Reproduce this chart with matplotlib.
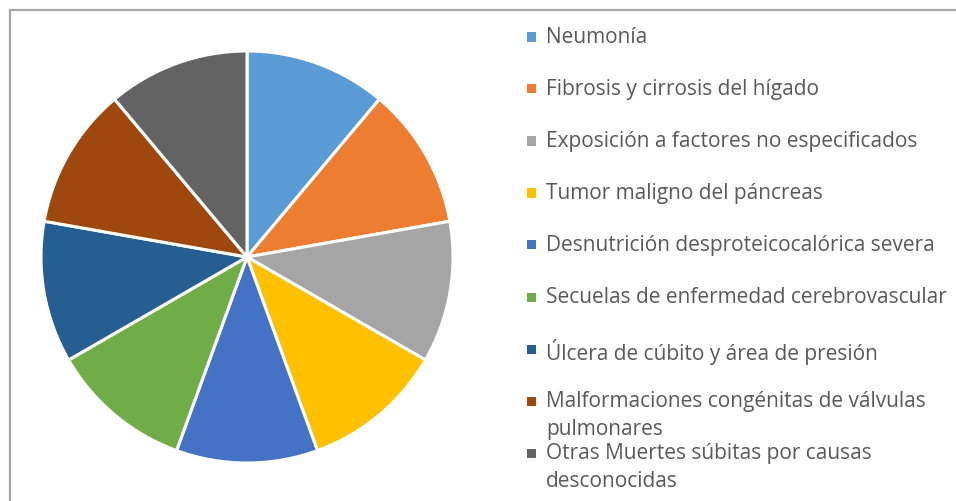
import matplotlib.pyplot as plt
from matplotlib.patches import Rectangle

labels = [
    "Neumonía",
    "Fibrosis y cirrosis del hígado",
    "Exposición a factores no especificados",
    "Tumor maligno del páncreas",
    "Desnutrición desproteicocalórica severa",
    "Secuelas de enfermedad cerebrovascular",
    "Úlcera de cúbito y área de presión",
    "Malformaciones congénitas de válvulas\npulmonares",
    "Otras Muertes súbitas por causas\ndesconocidas",
]
values = [1, 1, 1, 1, 1, 1, 1, 1, 1]
colors = ["#5B9BD5", "#ED7D31", "#A5A5A5", "#FFC000", "#4472C4",
          "#70AD47", "#255E91", "#9E480E", "#636363"]

W, H = 956, 501
fig = plt.figure(figsize=(W / 100, H / 100), dpi=100)

# outer chart frame (runs off the right/bottom edge like the screenshot)
fig.patches.append(Rectangle((10 / W, -0.1), 1.2, 1 - 10 / H + 0.1,
                             transform=fig.transFigure, fill=False,
                             edgecolor="#a6a6a6", linewidth=1.6))

# pie: centre (247, 257) px, radius 206 px
cx, cy, r = 247, 257, 206
ax = fig.add_axes([(cx - r) / W, 1 - (cy + r) / H, 2 * r / W, 2 * r / H])
ax.pie(values, colors=colors, startangle=90, counterclock=False,
       wedgeprops=dict(edgecolor="white", linewidth=2.2), radius=1)
ax.set_xlim(-1, 1)
ax.set_ylim(-1, 1)
ax.set_aspect("auto")
ax.axis("off")

# legend drawn by hand to match spacing
ys = [37, 89, 141, 193, 245, 297, 349, 401, 453]
for lab, col, y in zip(labels, colors, ys):
    fig.patches.append(Rectangle((527 / W, 1 - (y + 4.5) / H), 9 / W, 9 / H,
                                 transform=fig.transFigure, facecolor=col,
                                 edgecolor="none"))
    fig.text(546 / W, 1 - (y - 10) / H, lab, fontsize=15, color="#595959",
             family="Open Sans", va="top", ha="left", linespacing=1.42)

fig.savefig("out.png", dpi=100)
